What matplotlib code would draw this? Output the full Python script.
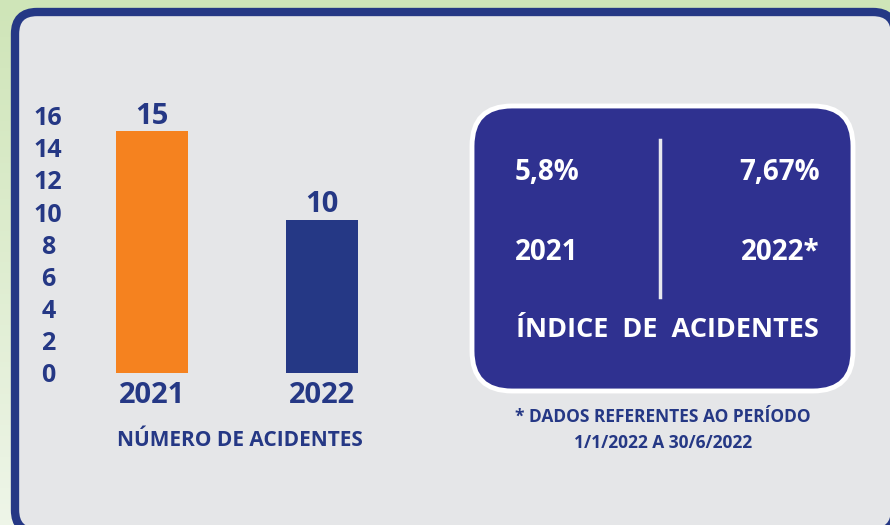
import numpy as np
import matplotlib
matplotlib.use("Agg")
import matplotlib.pyplot as plt
from matplotlib.patches import FancyBboxPatch
from matplotlib.colors import LinearSegmentedColormap

plt.rcParams["font.family"] = ["Open Sans", "DejaVu Sans"]
plt.rcParams["font.weight"] = "bold"

# data
years = ["2021", "2022"]
accidents = [15, 9.5]          # bar heights as drawn
accident_labels = ["15", "10"]  # labels printed over the bars
yticks = list(range(0, 17, 2))
index_values = ["5,8%", "7,67%"]
index_years = ["2021", "2022*"]

NAVY = "#253885"
ORANGE = "#F5821F"
BOX = "#2F3190"
PANEL = "#E5E6E8"

W, H = 890, 525
fig = plt.figure(figsize=(W / 100, H / 100), dpi=100)

# background layer in pixel coordinates (y down)
bg = fig.add_axes([0, 0, 1, 1])
bg.set_xlim(0, W)
bg.set_ylim(H, 0)
bg.axis("off")
grad = np.linspace(0, 1, 100).reshape(-1, 1)
green = LinearSegmentedColormap.from_list("g", ["#cfe5b8", "#eef5e8"])
bg.imshow(grad, cmap=green, extent=[0, W, H, 0], aspect="auto", zorder=0)

frame = FancyBboxPatch((15, 12), 880, 520, boxstyle="round,pad=0,rounding_size=22",
                       facecolor=PANEL, edgecolor=NAVY, linewidth=6, zorder=1)
bg.add_patch(frame)

box = FancyBboxPatch((472, 106), 381, 285, boxstyle="round,pad=0,rounding_size=40",
                     facecolor=BOX, edgecolor="white", linewidth=3.5, zorder=2)
bg.add_patch(box)
bg.plot([660, 660], [140, 297], color="#e8e8ee", lw=2.5, zorder=3)

big = 20
bg.text(515, 172, index_values[0], color="white", fontsize=big, ha="left", va="center", zorder=4)
bg.text(820, 172, index_values[1], color="white", fontsize=big, ha="right", va="center", zorder=4)
bg.text(515, 252, index_years[0], color="white", fontsize=big, ha="left", va="center", zorder=4)
bg.text(820, 252, index_years[1], color="white", fontsize=big, ha="right", va="center", zorder=4)
bg.text(667, 330, "ÍNDICE  DE  ACIDENTES", color="white", fontsize=19.5, ha="center", va="center", zorder=4)

bg.text(663, 417, "* DADOS REFERENTES AO PERÍODO", color=NAVY, fontsize=12.5, ha="center", va="center")
bg.text(663, 443, "1/1/2022 A 30/6/2022", color=NAVY, fontsize=12.5, ha="center", va="center")
bg.text(240, 440, "NÚMERO DE ACIDENTES", color=NAVY, fontsize=15, ha="center", va="center")

# bar chart
ax_left, ax_right = 67, 407
ax_bottom = 373
ax_h = 16 * 16.1
ax = fig.add_axes([ax_left / W, (H - ax_bottom) / H, (ax_right - ax_left) / W, ax_h / H])
ax.patch.set_alpha(0)
x = np.arange(len(years))
bars = ax.bar(x, accidents, width=0.42, color=[ORANGE, NAVY], zorder=3)
for b, lab in zip(bars, accident_labels):
    ax.text(b.get_x() + b.get_width() / 2, b.get_height() + 0.05, lab,
            ha="center", va="bottom", color=NAVY, fontsize=21)
ax.set_xlim(-0.5, 1.5)
ax.set_ylim(0, 16)
ax.set_xticks(x)
ax.set_xticklabels(years, fontsize=21, color=NAVY)
ax.set_yticks(yticks)
ax.set_yticklabels([str(t) for t in yticks], fontsize=18, color=NAVY)
for lab in ax.get_yticklabels():
    lab.set_horizontalalignment("center")
ax.tick_params(axis="y", length=0, pad=13.5)
ax.tick_params(axis="x", length=0, pad=6)
for s in ax.spines.values():
    s.set_visible(False)

fig.savefig("out.png", dpi=100)
